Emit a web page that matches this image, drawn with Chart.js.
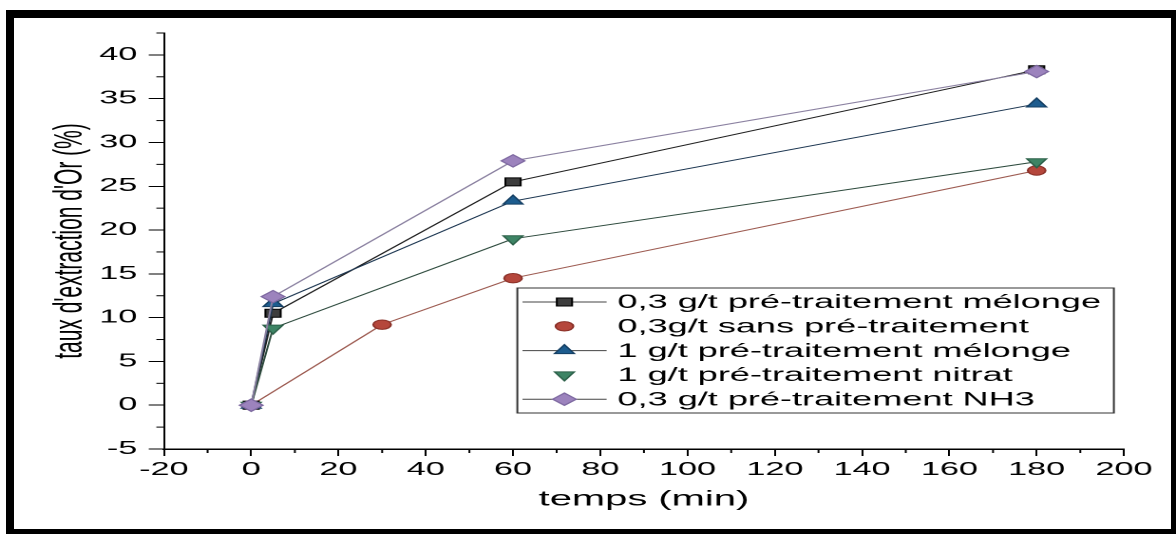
<!DOCTYPE html>
<html>
<head>
<meta charset="utf-8">
<script src="https://cdn.jsdelivr.net/npm/chart.js@4.4.1/dist/chart.umd.min.js"></script>
<style>
    html, body { margin: 0; padding: 0; background: #fff; }
    /* the original picture is stretched sideways, so the chart is drawn narrow and scaled */
    #wrap {
        position: absolute; left: 0; top: 0;
        width: 619px; height: 534px;
        transform: scaleX(1.8998); transform-origin: 0 0;
    }
    #frame {
        position: absolute; left: 6px; top: 10px; right: 0; bottom: 0;
        border-style: solid; border-color: #000;
        border-width: 8px 5px 5px 8px;
        pointer-events: none;
    }
</style>
</head>
<body>
<div id="wrap"><canvas id="extraction-chart"></canvas></div>
<div id="frame"></div>
<script>
// temps (min)
const tempsA = [0, 5, 60, 180];
const tempsSans = [0, 30, 60, 180];

// taux d'extraction d'Or (%)
const melonge03 = [0, 10.5, 25.5, 38.3];
const sansPre03 = [0, 9.2, 14.5, 26.8];
const melonge1 = [0, 11.6, 23.3, 34.4];
const nitrat1 = [0, 8.8, 19.0, 27.8];
const nh3_03 = [0, 12.4, 27.9, 38.1];

const seriesLabels = [
    "0,3 g/t pré-traitement mélonge",
    "0,3g/t sans pré-traitement",
    "1 g/t pré-traitement mélonge",
    "1 g/t pré-traitement nitrat",
    "0,3 g/t pré-traitement NH3",
];

const xTicks = [-20, 0, 20, 40, 60, 80, 100, 120, 140, 160, 180, 200];
const xMinor = [-10, 10, 30, 50, 70, 90, 110, 130, 150, 170, 190];
const yTicks = [-5, 0, 5, 10, 15, 20, 25, 30, 35, 40];
const yMinor = [-2.5, 2.5, 7.5, 12.5, 17.5, 22.5, 27.5, 32.5, 37.5, 42.5];

const toPoints = (xs, ys) => xs.map((x, i) => ({ x: x, y: ys[i] }));

Chart.defaults.font.family = "'Liberation Sans', Arial, sans-serif";
Chart.defaults.color = "#000";

const minorTicks = {
    id: "minorTicks",
    afterDraw(chart) {
        const { ctx, chartArea, scales } = chart;
        ctx.save();
        ctx.strokeStyle = "#000";
        ctx.lineWidth = 1;
        xMinor.forEach((v) => {
            const px = scales.x.getPixelForValue(v);
            ctx.beginPath();
            ctx.moveTo(px, chartArea.bottom);
            ctx.lineTo(px, chartArea.bottom + 4);
            ctx.stroke();
        });
        yMinor.forEach((v) => {
            const py = scales.y.getPixelForValue(v);
            ctx.beginPath();
            ctx.moveTo(chartArea.left, py);
            ctx.lineTo(chartArea.left - 4, py);
            ctx.stroke();
        });
        ctx.restore();
    },
};

// legend box sitting inside the plot, lower right
const boxLegend = {
    id: "boxLegend",
    afterDraw(chart) {
        const { ctx, chartArea } = chart;
        const right = chartArea.right - 5.3;
        const left = right - 314;
        const bottom = chartArea.bottom - 36;
        const top = bottom - 125;
        ctx.save();
        ctx.fillStyle = "#fff";
        ctx.fillRect(left, top, right - left, bottom - top);
        ctx.strokeStyle = "#333";
        ctx.lineWidth = 1;
        ctx.strokeRect(left, top, right - left, bottom - top);

        chart.data.datasets.forEach((ds, i) => {
            const y = top + 14 + i * 24.3;
            if (ds.legendLine) {
                ctx.strokeStyle = "#444";
                ctx.lineWidth = 1;
                ctx.beginPath();
                ctx.moveTo(left + 2.7, y);
                ctx.lineTo(left + 47, y);
                ctx.stroke();
            }
            ctx.fillStyle = ds.pointBackgroundColor;
            ctx.strokeStyle = ds.pointBorderColor;
            ctx.lineWidth = 1;
            Chart.helpers.drawPoint(ctx, {
                pointStyle: ds.pointStyle,
                radius: ds.pointRadius,
                rotation: ds.pointRotation || 0,
                borderWidth: 1,
            }, left + 24.8, y);
            ctx.fillStyle = "#000";
            ctx.font = "19px 'Liberation Sans', Arial, sans-serif";
            ctx.textBaseline = "middle";
            ctx.textAlign = "left";
            ctx.fillText(ds.label, left + 52.7, y + 1);
        });
        ctx.restore();
    },
};

new Chart(document.getElementById("extraction-chart"), {
    type: "line",
    data: {
        datasets: [
            {
                label: seriesLabels[0],
                data: toPoints(tempsA, melonge03),
                borderColor: "#1e1e1e",
                borderWidth: 1,
                pointStyle: "rect",
                pointRadius: 5.7,
                pointBackgroundColor: "#3d3d3d",
                pointBorderColor: "#000",
                pointBorderWidth: 1,
                legendLine: true,
                order: 4,
            },
            {
                label: seriesLabels[1],
                data: toPoints(tempsSans, sansPre03),
                borderColor: "#9c5a50",
                borderWidth: 1,
                pointStyle: "circle",
                pointRadius: 4.7,
                pointBackgroundColor: "#b5473c",
                pointBorderColor: "#8a3028",
                pointBorderWidth: 1,
                legendLine: false,
                order: 5,
            },
            {
                label: seriesLabels[2],
                data: toPoints(tempsA, melonge1),
                borderColor: "#1b3550",
                borderWidth: 1,
                pointStyle: "triangle",
                pointRadius: 6,
                pointBackgroundColor: "#1d5c8e",
                pointBorderColor: "#153f63",
                pointBorderWidth: 1,
                legendLine: true,
                order: 3,
            },
            {
                label: seriesLabels[3],
                data: toPoints(tempsA, nitrat1),
                borderColor: "#2d4a3d",
                borderWidth: 1,
                pointStyle: "triangle",
                pointRotation: 180,
                pointRadius: 6,
                pointBackgroundColor: "#3e8465",
                pointBorderColor: "#2c6049",
                pointBorderWidth: 1,
                legendLine: false,
                order: 2,
            },
            {
                label: seriesLabels[4],
                data: toPoints(tempsA, nh3_03),
                borderColor: "#8a80a0",
                borderWidth: 1,
                pointStyle: "rectRot",
                pointRadius: 6.2,
                pointBackgroundColor: "#9c83bd",
                pointBorderColor: "#7d68a0",
                pointBorderWidth: 1,
                legendLine: true,
                order: 1,
            },
        ],
    },
    options: {
        responsive: true,
        maintainAspectRatio: false,
        animation: false,
        devicePixelRatio: 2,
        layout: {
            padding: { top: 33, left: 0, right: 27.4, bottom: 0 },
        },
        scales: {
            x: {
                type: "linear",
                min: -20,
                max: 200,
                afterBuildTicks: (scale) => {
                    scale.ticks = xTicks.map((v) => ({ value: v }));
                },
                afterFit: (scale) => {
                    scale.height = 85;
                    scale.paddingLeft = 0;
                    scale.paddingRight = 0;
                },
                grid: {
                    drawOnChartArea: false,
                    tickLength: 7,
                    tickColor: "#000",
                },
                border: { color: "#000", width: 1.5 },
                ticks: {
                    padding: 3,
                    maxRotation: 0,
                    font: { size: 18 },
                    callback: (v) => String(v),
                },
                title: {
                    display: true,
                    text: "temps (min)",
                    font: { size: 21 },
                    padding: { top: 0, bottom: 21.5 },
                },
            },
            y: {
                type: "linear",
                min: -5,
                max: 42.5,
                afterBuildTicks: (scale) => {
                    scale.ticks = yTicks.map((v) => ({ value: v }));
                },
                afterFit: (scale) => {
                    scale.width = 86.3;
                    scale.paddingTop = 0;
                    scale.paddingBottom = 0;
                },
                grid: {
                    drawOnChartArea: false,
                    tickLength: 8,
                    tickColor: "#000",
                },
                border: { color: "#000", width: 1 },
                ticks: {
                    padding: 6,
                    font: { size: 18 },
                    callback: (v) => String(v),
                },
                title: {
                    display: true,
                    text: "taux d'extraction d'Or (%)",
                    font: { size: 21 },
                    padding: { top: 24.4, bottom: 0 },
                },
            },
        },
        plugins: {
            legend: { display: false },
            tooltip: { enabled: false },
        },
    },
    plugins: [minorTicks, boxLegend],
});
</script>
</body>
</html>
